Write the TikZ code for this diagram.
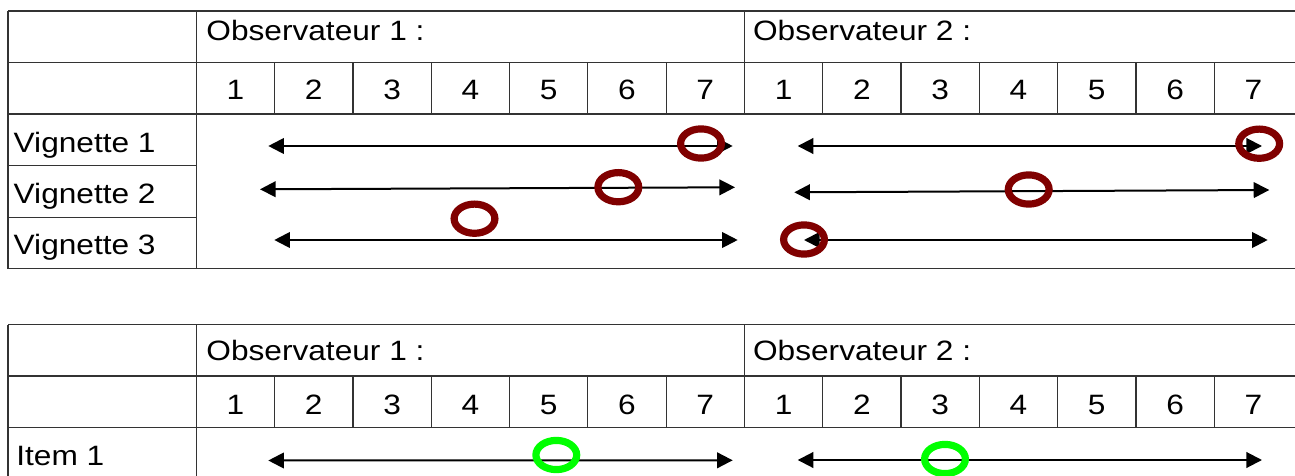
\documentclass[tikz,border=0pt]{standalone}
\usepackage{fontspec}
\setmainfont{Liberation Sans}[FakeStretch=1.13]
\usetikzlibrary{arrows.meta,shapes.geometric}
\tikzset{
  grid/.style={draw=black!80, line width=0.6pt},
  lbl/.style={anchor=base west, inner sep=0pt, font=\fontsize{14}{17}\selectfont},
  num/.style={anchor=base, inner sep=0pt, font=\fontsize{14}{17}\selectfont},
  scale arrow/.style={line width=1pt, black,
    {Triangle[length=7.8pt,width=7.8pt]}-{Triangle[length=7.8pt,width=7.8pt]}},
  ring/.style={ellipse, draw=#1, line width=3.6pt, inner sep=0pt,
    minimum width=20.4pt, minimum height=14.6pt},
}
\definecolor{ringred}{HTML}{800000}
\definecolor{ringgreen}{HTML}{00FF00}
\begin{document}
\begin{tikzpicture}[x=0.5pt, y=-0.5pt]
  \clip (0,0) rectangle (1295,476);
  \fill[white] (0,0) rectangle (1295,476);

  % ---------- upper table ----------
  \foreach \yy in {11,62.5,114,268.7} \draw[grid] (8,\yy) -- (1310,\yy);
  \foreach \yy in {165.7,217.3} \draw[grid] (8,\yy) -- (196.3,\yy);
  \draw[grid] (8,11) -- (8,268.7);
  \draw[grid] (196.3,11) -- (196.3,268.7);
  \draw[grid] (744.4,11) -- (744.4,114);
  \foreach \k in {1,...,13} \draw[grid] ({196.3+78.3*\k},62.5) -- ({196.3+78.3*\k},114);

  \node[lbl] (tobs1) at (206,41) {Observateur 1 :};
  \node[lbl] (tobs2) at (752.7,41) {Observateur 2 :};
  \foreach \k [count=\i from 0] in {1,...,7} {
    \node[num] (ta\k) at ({235.45+78.3*\i},100) {\k};
    \node[num] (tb\k) at ({783.55+78.3*\i},100) {\k};
  }
  \node[lbl] (v1) at (13.3,153) {Vignette 1};
  \node[lbl] (v2) at (13.3,203.3) {Vignette 2};
  \node[lbl] (v3) at (13.3,254) {Vignette 3};

  % rating lines
  \coordinate (a1l) at (268.3,146);   \coordinate (a1r) at (732.7,146);
  \coordinate (b1l) at (797.7,146);   \coordinate (b1r) at (1262,146);
  \coordinate (a2l) at (260,189.3);   \coordinate (a2r) at (735,187.3);
  \coordinate (b2l) at (794.3,192.3); \coordinate (b2r) at (1269.3,190);
  \coordinate (a3l) at (274.3,240);   \coordinate (a3r) at (737.7,240);
  \coordinate (b3l) at (804,240);     \coordinate (b3r) at (1267.7,240);
  \draw[scale arrow] (a1l) -- (a1r);
  \draw[scale arrow] (b1l) -- (b1r);
  \draw[scale arrow] (a2l) -- (a2r);
  \draw[scale arrow] (b2l) -- (b2r);
  \draw[scale arrow] (a3l) -- (a3r);
  \draw[scale arrow] (b3l) -- (b3r);

  % marked answers
  \node[ring=ringred] (m1a) at (701,143.5) {};
  \node[ring=ringred] (m1b) at (1259.2,143.7) {};
  \node[ring=ringred] (m2a) at (618.3,187.2) {};
  \node[ring=ringred] (m2b) at (1028.7,189.5) {};
  \node[ring=ringred] (m3a) at (474.5,218.7) {};
  \node[ring=ringred] (m3b) at (804,239.5) {};

  % ---------- lower table ----------
  \foreach \yy in {324.5,376,427.5} \draw[grid] (8,\yy) -- (1310,\yy);
  \draw[grid] (8,324.5) -- (8,490);
  \draw[grid] (196.3,324.5) -- (196.3,490);
  \draw[grid] (744.4,324.5) -- (744.4,427.5);
  \foreach \k in {1,...,13} \draw[grid] ({196.3+78.3*\k},376) -- ({196.3+78.3*\k},427.5);

  \node[lbl] (bobs1) at (206,360) {Observateur 1 :};
  \node[lbl] (bobs2) at (752.7,360) {Observateur 2 :};
  \foreach \k [count=\i from 0] in {1,...,7} {
    \node[num] (ba\k) at ({235.45+78.3*\i},414) {\k};
    \node[num] (bb\k) at ({783.55+78.3*\i},414) {\k};
  }
  \node[lbl] (it1) at (16,465.7) {Item 1};

  \coordinate (c1l) at (268.3,460.5); \coordinate (c1r) at (732.7,460.3);
  \coordinate (d1l) at (797.7,460);   \coordinate (d1r) at (1262,460);
  \draw[scale arrow] (c1l) -- (c1r);
  \draw[scale arrow] (d1l) -- (d1r);

  \node[ring=ringgreen] (g1a) at (556.3,455) {};
  \node[ring=ringgreen] (g1b) at (945,459) {};
\end{tikzpicture}
\end{document}
